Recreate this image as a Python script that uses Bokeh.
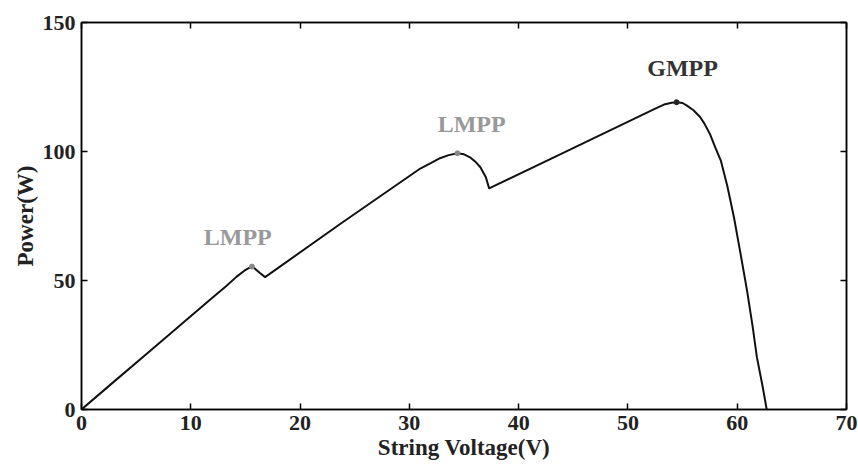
from bokeh.plotting import figure
from bokeh.models import LinearAxis, Range1d, FixedTicker, Label
from bokeh.embed import file_html
from bokeh.resources import INLINE

# String P-V curve
voltage = [0, 3, 6, 9, 12, 13.2, 14.2, 14.9, 15.3, 15.6, 15.9, 16.3, 16.8,
           23.7, 31.0, 32.0, 32.8, 33.6, 34.4, 35.0, 35.6, 36.1, 36.5, 37.0, 37.3,
           44.7, 52.5, 53.3, 54.0, 54.45, 55.0, 55.4, 56.0, 56.6, 57.0, 57.5,
           58.0, 58.5, 59.1, 59.7, 60.3, 60.9, 61.4, 61.8, 62.3, 62.7]
power = [0, 10.9, 21.7, 32.6, 43.4, 47.7, 51.5, 53.8, 54.8, 55.4, 54.5, 53.0, 51.3,
         72.0, 93.4, 95.6, 97.4, 98.6, 99.3, 98.9, 97.6, 95.8, 93.9, 90.0, 85.7,
         100.7, 116.6, 118.2, 118.9, 119.1, 118.8, 117.8, 116.0, 113.4, 110.8, 106.8,
         101.5, 96.5, 86.5, 74.5, 60.5, 46.1, 32.5, 20.3, 9.5, 0]

# Peaks and their labels
lmpp_v = [15.6, 34.4]
lmpp_p = [55.4, 99.3]
gmpp_v = [54.45]
gmpp_p = [119.1]
label_text = ["LMPP", "LMPP", "GMPP"]
label_v = [14.3, 35.7, 55.0]
label_p = [66.8, 110.5, 132.3]
label_color = ["#999999", "#999999", "#333333"]

x_ticks = [0, 10, 20, 30, 40, 50, 60, 70]
y_ticks = [0, 50, 100, 150]

FONT = "Liberation Serif"

p = figure(width=858, height=474, output_backend="svg", toolbar_location=None,
           x_range=Range1d(0, 70), y_range=Range1d(0, 150),
           min_border_left=81, min_border_right=12, min_border_top=22,
           min_border_bottom=65, x_axis_label="String Voltage(V)",
           y_axis_label="Power(W)")
p.grid.visible = False
p.outline_line_color = "black"
p.outline_line_width = 1.5
p.background_fill_color = "white"
p.border_fill_color = "white"

p.line(voltage, power, line_color="#111111", line_width=2)
p.scatter(lmpp_v, lmpp_p, size=5, color="#888888")
p.scatter(gmpp_v, gmpp_p, size=5, color="#222222")

for t, xv, yv, c in zip(label_text, label_v, label_p, label_color):
    p.add_layout(Label(x=xv, y=yv, text=t, text_font=FONT, text_font_style="bold",
                       text_font_size="24px", text_color=c,
                       text_align="center", text_baseline="middle"))

for ax in [p.xaxis[0], p.yaxis[0]]:
    ax.major_label_text_font = FONT
    ax.major_label_text_font_style = "bold"
    ax.major_label_text_font_size = "22px"
    ax.major_label_text_color = "#222222"
    ax.axis_label_text_font = FONT
    ax.axis_label_text_font_style = "bold"
    ax.axis_label_text_font_size = "23px"
    ax.axis_label_text_color = "#222222"
    ax.major_tick_in = 6
    ax.major_tick_out = 0
    ax.minor_tick_line_color = None
    ax.axis_line_width = 1.5
    ax.major_tick_line_width = 1.5
    ax.major_label_standoff = 6
    ax.axis_label_standoff = 2

p.xaxis[0].ticker = FixedTicker(ticks=x_ticks)
p.yaxis[0].ticker = FixedTicker(ticks=y_ticks)

right = LinearAxis(ticker=FixedTicker(ticks=y_ticks),
                   major_label_overrides={t: "" for t in y_ticks},
                   major_tick_in=6, major_tick_out=0, minor_tick_line_color=None,
                   axis_line_width=1.5, major_tick_line_width=1.5, major_label_standoff=0)
top = LinearAxis(ticker=FixedTicker(ticks=x_ticks),
                 major_label_overrides={t: "" for t in x_ticks},
                 major_tick_in=6, major_tick_out=0, minor_tick_line_color=None,
                 axis_line_width=1.5, major_tick_line_width=1.5, major_label_standoff=0)
p.add_layout(right, "right")
p.add_layout(top, "above")

open("out.html", "w").write(file_html(p, INLINE))
